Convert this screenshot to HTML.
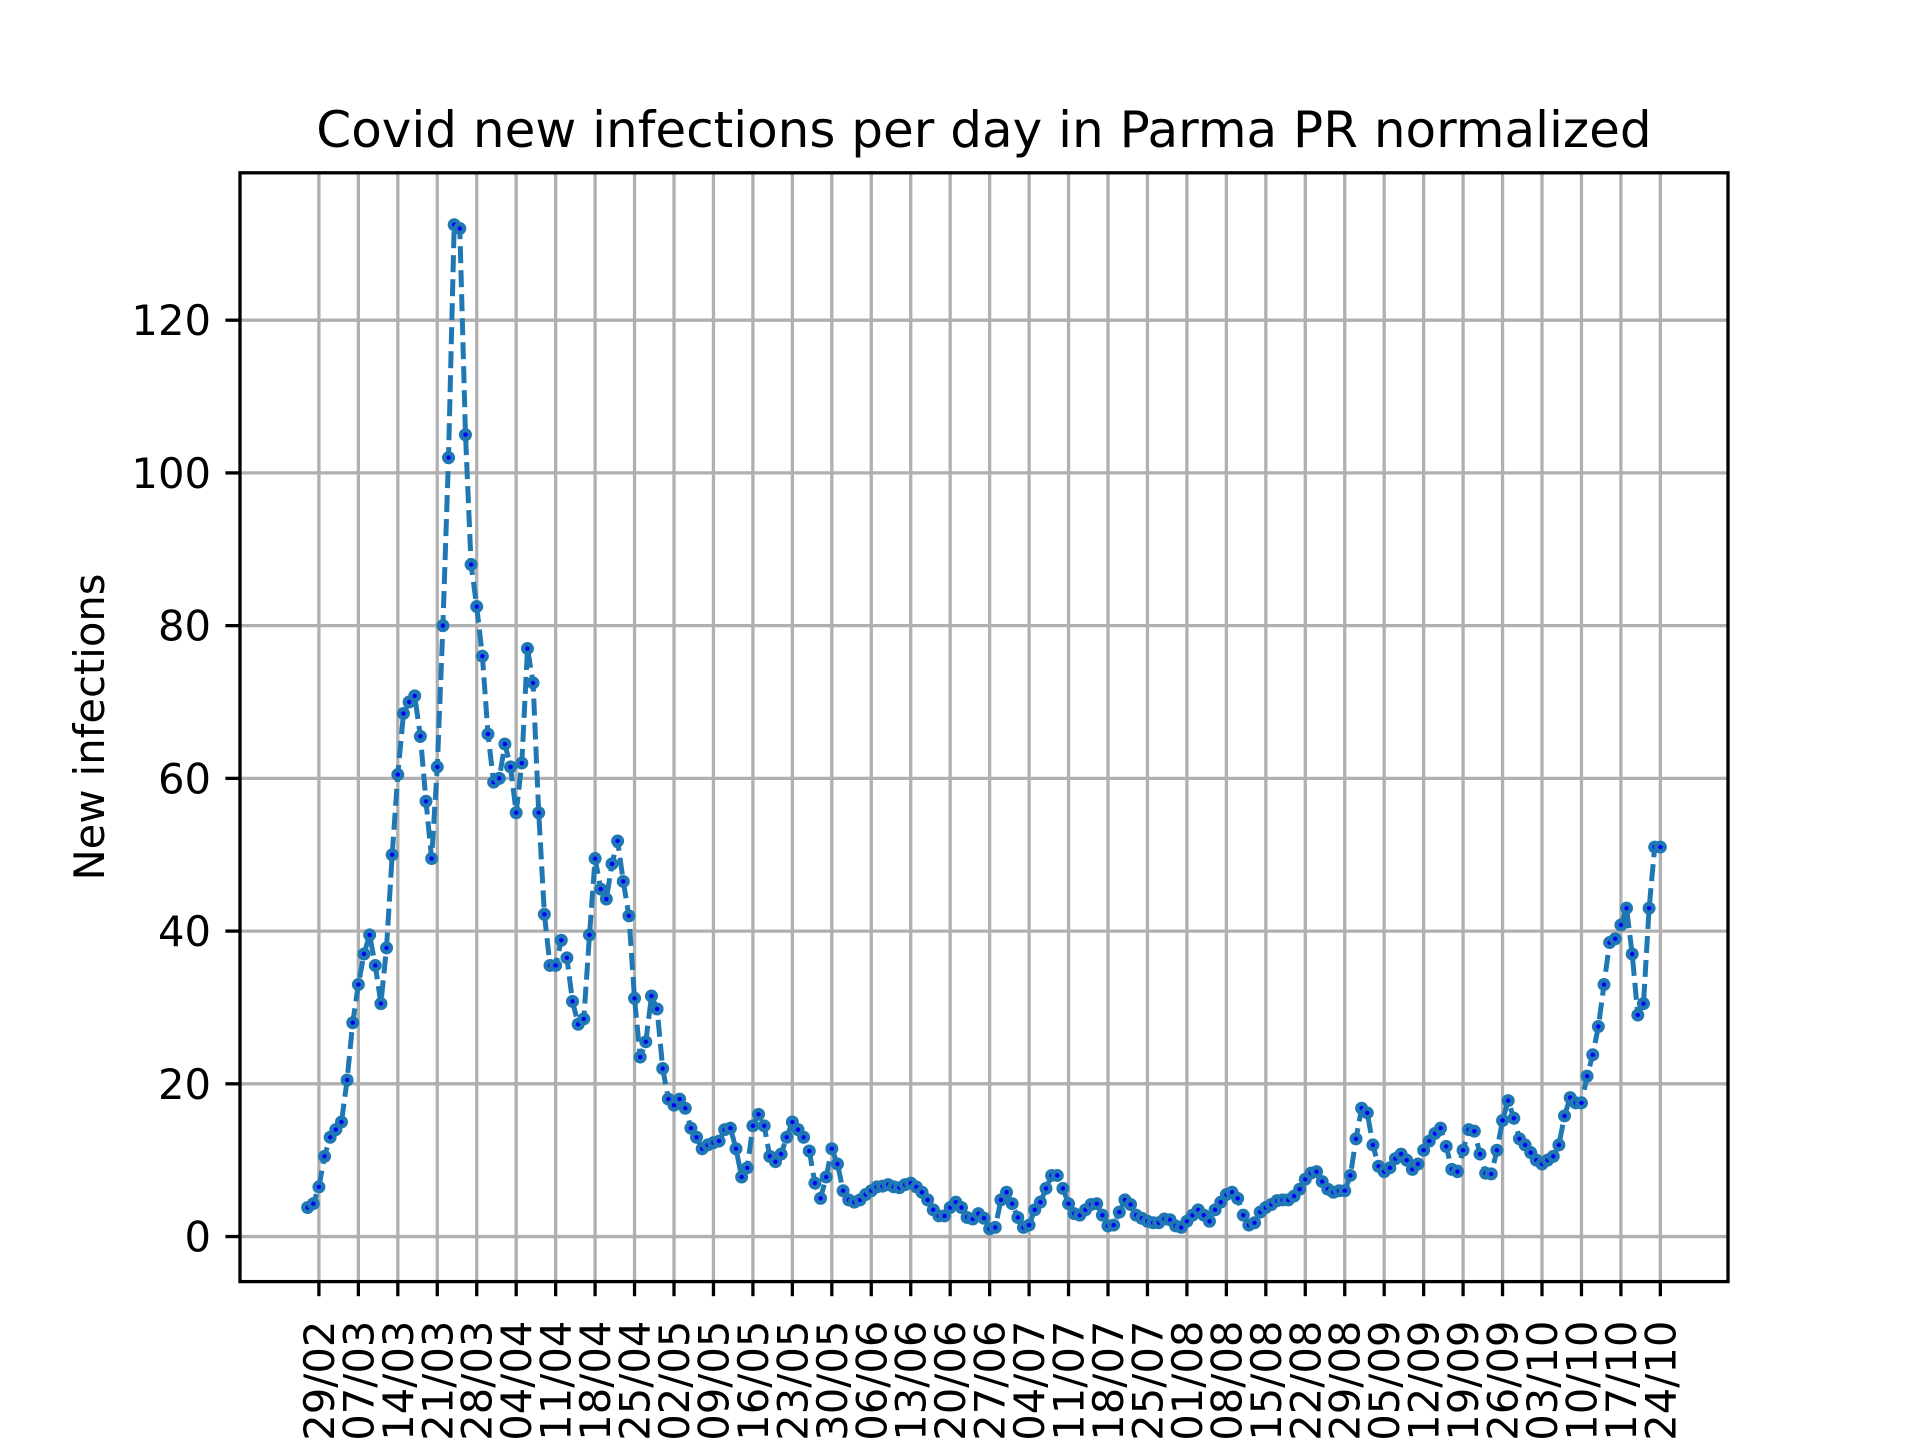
<!DOCTYPE html>
<html><head><meta charset="utf-8"><style>
html,body{margin:0;padding:0;background:#fff;}
svg text{font-family:"DejaVu Sans","Liberation Sans",sans-serif;fill:#000;}
</style></head><body>
<svg id="chart" width="1920" height="1440" viewBox="0 0 1920 1440" xmlns="http://www.w3.org/2000/svg">
<rect width="1920" height="1440" fill="#fff"/>
<text x="984" y="147" font-size="50" text-anchor="middle">Covid new infections per day in Parma PR normalized</text>
<text transform="translate(104,727) rotate(-90)" font-size="41.7" text-anchor="middle">New infections</text>
<g id="grid"></g><g id="series"></g><g id="axes"></g>
</svg>
<script>
const tickLabels=["29/02","07/03","14/03","21/03","28/03","04/04","11/04","18/04","25/04","02/05","09/05","16/05","23/05","30/05","06/06","13/06","20/06","27/06","04/07","11/07","18/07","25/07","01/08","08/08","15/08","22/08","29/08","05/09","12/09","19/09","26/09","03/10","10/10","17/10","24/10"];
const yTicks=[0,20,40,60,80,100,120];
const values=[3.8,4.3,6.5,10.5,13,14,15,20.5,28,33,37,39.5,35.5,30.5,37.8,50,60.5,68.5,70,70.8,65.5,57,49.5,61.5,80,102,132.5,132,105,88,82.5,76,65.8,59.5,60,64.5,61.5,55.5,62,77,72.5,55.5,42.2,35.5,35.5,38.8,36.5,30.8,27.8,28.5,39.5,49.5,45.5,44.2,48.8,51.8,46.5,42,31.2,23.5,25.5,31.5,29.8,22,18,17.2,18,16.8,14.2,13,11.5,12,12.3,12.5,14,14.2,11.5,7.8,9,14.5,16,14.5,10.5,9.8,10.8,13,15,14,13,11.2,7,5,7.8,11.5,9.5,6,4.8,4.5,4.8,5.5,6,6.5,6.6,6.8,6.5,6.4,6.8,7,6.5,5.8,4.8,3.5,2.7,2.7,3.8,4.5,3.8,2.5,2.3,3,2.4,1,1.2,4.8,5.8,4.3,2.5,1.2,1.5,3.5,4.5,6.3,8,8,6.3,4.3,3,2.8,3.5,4.2,4.3,2.8,1.4,1.5,3.2,4.8,4.2,2.8,2.4,2,1.8,1.8,2.3,2.2,1.4,1.2,2,2.8,3.5,2.8,2,3.5,4.5,5.5,5.8,5,2.8,1.5,1.8,3.2,3.8,4.2,4.7,4.8,4.8,5.3,6.2,7.5,8.3,8.5,7.2,6.2,5.8,6,6,8,12.8,16.8,16.2,12,9.2,8.5,9,10.2,10.8,10,8.8,9.5,11.3,12.5,13.5,14.2,11.8,8.8,8.5,11.3,14,13.8,10.8,8.3,8.2,11.3,15.2,17.8,15.5,12.8,12,11,10,9.5,10,10.5,12,15.8,18.2,17.5,17.5,21,23.8,27.5,33,38.5,39,40.8,43,37,29,30.5,43,51,51];
const NS="http://www.w3.org/2000/svg";
const L=240,R=1728,T=172.8,B=1281.6;
const n=values.length, span=n-1, firstTickDay=2;
const xMin=-0.05*span, xMax=span*1.05;
const yMin=-5.9, yMax=139.3;
function xs(d){return L+(d-xMin)/(xMax-xMin)*(R-L);}
function ys(v){return B-(v-yMin)/(yMax-yMin)*(B-T);}
function mk(tag,attrs,parent){const e=document.createElementNS(NS,tag);for(const k in attrs)e.setAttribute(k,attrs[k]);parent.appendChild(e);return e;}
const grid=document.getElementById('grid'),axes=document.getElementById('axes'),series=document.getElementById('series');
tickLabels.forEach((lab,i)=>{
  const x=xs(firstTickDay+7*i);
  const g=mk('line',{x1:x,x2:x,y1:T,y2:B,stroke:'#b0b0b0','stroke-width':3.3},grid);
  
  
  const t=mk('line',{x1:x,x2:x,y1:B,y2:B+14.6,stroke:'#000','stroke-width':3.3},axes);
  
  
  const tx=mk('text',{transform:`translate(${x+15},${B+39}) rotate(-90)`,'font-size':41.7,'text-anchor':'end'},axes);
  tx.textContent=lab;
  
  
});
yTicks.forEach(v=>{
  const y=ys(v);
  const g=mk('line',{x1:L,x2:R,y1:y,y2:y,stroke:'#b0b0b0','stroke-width':3.3},grid);
  
  
  const t=mk('line',{x1:L-14.6,x2:L,y1:y,y2:y,stroke:'#000','stroke-width':3.3},axes);
  
  
  const tx=mk('text',{x:L-29,y:y+15,'font-size':41.7,'text-anchor':'end'},axes);
  tx.textContent=v;
  
  
});
const frame=mk('rect',{x:L,y:T,width:R-L,height:B-T,fill:'none',stroke:'#000','stroke-width':3.3},axes);


const pts=values.map((v,i)=>xs(i).toFixed(1)+','+ys(v).toFixed(1)).join(' ');
const line=mk('polyline',{points:pts,fill:'none',stroke:'#1f77b4','stroke-width':5,'stroke-dasharray':'17,7','stroke-linejoin':'round'},series);


values.forEach((v,i)=>{
  const c=mk('circle',{cx:xs(i),cy:ys(v),r:6.5,fill:'#1f77b4'},series);
  
  
  const d=mk('circle',{cx:xs(i),cy:ys(v),r:2.2,fill:'#0000ff'},series);
  
  
});
</script>
</body></html>
